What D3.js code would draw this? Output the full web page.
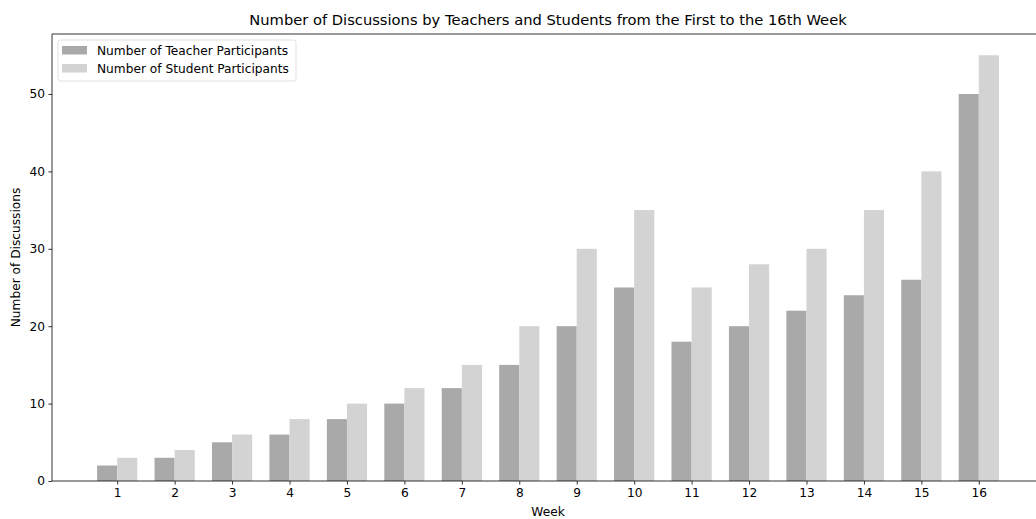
<!DOCTYPE html>
<html>
<head>
<meta charset="utf-8">
<script src="https://cdn.jsdelivr.net/npm/d3@7"></script>
<style>
  body { margin: 0; background: #fff; }
  svg text { font-family: "DejaVu Sans", sans-serif; fill: #000; }
</style>
</head>
<body>
<div id="chart"></div>
<script>
// data
const weeks = [1, 2, 3, 4, 5, 6, 7, 8, 9, 10, 11, 12, 13, 14, 15, 16];
const teacherCounts = [2, 3, 5, 6, 8, 10, 12, 15, 20, 25, 18, 20, 22, 24, 26, 50];
const studentCounts = [3, 4, 6, 8, 10, 12, 15, 20, 30, 35, 25, 28, 30, 35, 40, 55];
const yTicks = [0, 10, 20, 30, 40, 50];
const seriesNames = ["Number of Teacher Participants", "Number of Student Participants"];
const seriesColors = ["#a9a9a9", "#d3d3d3"];

const width = 1036, height = 519;
const margins = {top: 34, right: -8, bottom: 38, left: 52};
const barW = 0.35;
const fontSize = "12.2px";

const svg = d3.select("#chart")
    .append("svg")
    .attr("width", width)
    .attr("height", height);

/* scales: matplotlib style 5% margins around the bars */
const xMin = weeks[0] - barW, xMax = weeks[weeks.length - 1] + barW;
const pad = (xMax - xMin) * 0.05;
const xScale = d3.scaleLinear()
    .domain([xMin - pad, xMax + pad])
    .range([margins.left, width - margins.right]);
const yMax = d3.max(studentCounts.concat(teacherCounts)) * 1.05;
const yScale = d3.scaleLinear()
    .domain([0, yMax])
    .range([height - margins.bottom, margins.top]);

/* bars */
const series = [teacherCounts, studentCounts];
series.forEach((vals, s) => {
    const offset = s === 0 ? -barW / 2 : barW / 2;
    svg.append("g")
        .selectAll("rect")
        .data(weeks)
        .join("rect")
        .attr("x", (d) => xScale(d + offset - barW / 2))
        .attr("y", (d, i) => yScale(vals[i]))
        .attr("width", xScale(barW) - xScale(0))
        .attr("height", (d, i) => yScale(0) - yScale(vals[i]))
        .attr("fill", seriesColors[s]);
});

/* axes */
const xAxis = d3.axisBottom(xScale)
    .tickValues(weeks)
    .tickFormat(d3.format("d"))
    .tickSize(3.6)
    .tickPadding(3.5);
const yAxis = d3.axisLeft(yScale)
    .tickValues(yTicks)
    .tickSize(3.6)
    .tickPadding(3.5);

const xGroup = svg.append("g")
    .attr("transform", `translate(0, ${height - margins.bottom})`)
    .call(xAxis);
const yGroup = svg.append("g")
    .attr("transform", `translate(${margins.left}, 0)`)
    .call(yAxis);

[xGroup, yGroup].forEach(g => {
    g.select(".domain").remove();
    g.selectAll(".tick line").attr("stroke", "#000").attr("stroke-width", 0.8);
    g.selectAll(".tick text")
        .style("font-family", "DejaVu Sans, sans-serif")
        .style("font-size", fontSize)
        .attr("fill", "#000");
});

/* spines */
const spine = svg.append("g")
    .attr("fill", "none")
    .attr("stroke", "#000")
    .attr("stroke-width", 0.8);
spine.append("path")
    .attr("d", `M${margins.left},${margins.top}V${height - margins.bottom}H${width - margins.right}`);
spine.append("path")
    .attr("d", `M${margins.left},${margins.top}H${width - margins.right}`);

/* title and axis labels */
const plotMid = (margins.left + width - margins.right) / 2;
svg.append("text")
    .attr("x", plotMid)
    .attr("y", 25)
    .attr("text-anchor", "middle")
    .style("font-size", "14.7px")
    .text("Number of Discussions by Teachers and Students from the First to the 16th Week");

svg.append("text")
    .attr("x", plotMid)
    .attr("y", 516)
    .attr("text-anchor", "middle")
    .style("font-size", fontSize)
    .text("Week");

svg.append("text")
    .attr("transform", `translate(20, ${(margins.top + height - margins.bottom) / 2}) rotate(-90)`)
    .attr("text-anchor", "middle")
    .style("font-size", fontSize)
    .text("Number of Discussions");

/* legend */
const legend = svg.append("g").attr("transform", "translate(58, 40)");
legend.append("rect")
    .attr("width", 238)
    .attr("height", 41)
    .attr("rx", 2.5)
    .attr("fill", "#fff")
    .attr("fill-opacity", 0.8)
    .attr("stroke", "#d9d9d9")
    .attr("stroke-width", 0.8);
seriesNames.forEach((name, i) => {
    const row = legend.append("g").attr("transform", `translate(4, ${6 + i * 18})`);
    row.append("rect")
        .attr("width", 25)
        .attr("height", 8.5)
        .attr("fill", seriesColors[i]);
    row.append("text")
        .attr("x", 35)
        .attr("y", 8.5)
        .style("font-size", fontSize)
        .text(name);
});
</script>
</body>
</html>
